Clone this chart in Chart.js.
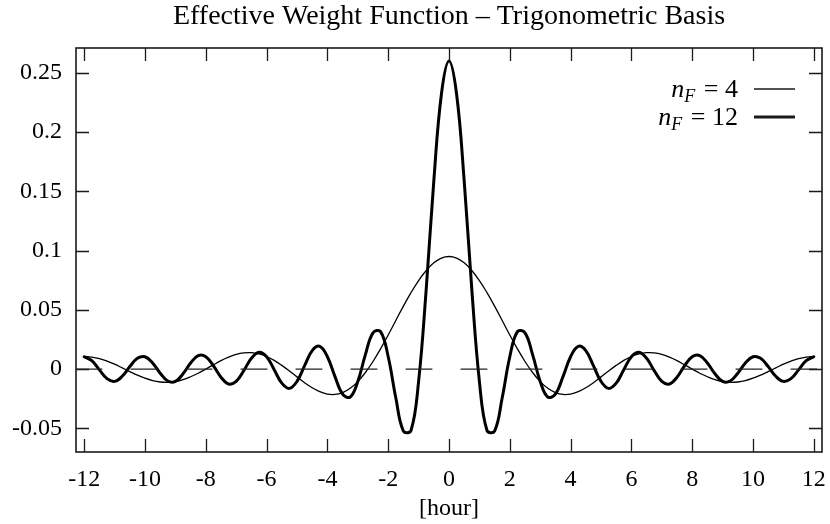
<!DOCTYPE html>
<html>
<head>
<meta charset="utf-8">
<title>Effective Weight Function</title>
<script src="https://cdn.jsdelivr.net/npm/chart.js@4.4.1/dist/chart.umd.min.js"></script>
<style>
  html, body { margin: 0; padding: 0; background: #fff; }
  canvas { display: block; }
</style>
</head>
<body>
<canvas id="weightChart" width="830" height="524"></canvas>
<script>
const chartTitle = 'Effective Weight Function \u2013 Trigonometric Basis';

// sample positions in hours
const hours = [
  -12, -11.75, -11.5, -11.25, -11, -10.75, -10.5, -10.25, -10, -9.75, -9.5, -9.25,
  -9, -8.75, -8.5, -8.25, -8, -7.75, -7.5, -7.25, -7, -6.75, -6.5, -6.25,
  -6, -5.75, -5.5, -5.25, -5, -4.75, -4.5, -4.25, -4, -3.75, -3.5, -3.25,
  -3, -2.75, -2.5, -2.25, -2, -1.75, -1.5, -1.25, -1, -0.75, -0.5, -0.25,
  0,
  0.25, 0.5, 0.75, 1, 1.25, 1.5, 1.75, 2, 2.25, 2.5, 2.75, 3,
  3.25, 3.5, 3.75, 4, 4.25, 4.5, 4.75, 5, 5.25, 5.5, 5.75, 6,
  6.25, 6.5, 6.75, 7, 7.25, 7.5, 7.75, 8, 8.25, 8.5, 8.75, 9,
  9.25, 9.5, 9.75, 10, 10.25, 10.5, 10.75, 11, 11.25, 11.5, 11.75, 12
];

// n_F = 4
const weightN4 = [
  0.0106, 0.0101, 0.0088, 0.0067, 0.0041, 0.0010, -0.0021, -0.0051, -0.0077, -0.0097, -0.0109, -0.0112,
  -0.0106, -0.0090, -0.0065, -0.0035, 0.0000, 0.0036, 0.0071, 0.0100, 0.0123, 0.0136, 0.0138, 0.0128,
  0.0106, 0.0073, 0.0031, -0.0016, -0.0066, -0.0115, -0.0158, -0.0191, -0.0211, -0.0214, -0.0198, -0.0162,
  -0.0106, -0.0029, 0.0064, 0.0171, 0.0288, 0.0410, 0.0531, 0.0645, 0.0747, 0.0832, 0.0897, 0.0937,
  0.0950,
  0.0937, 0.0897, 0.0832, 0.0747, 0.0645, 0.0531, 0.0410, 0.0288, 0.0171, 0.0064, -0.0029, -0.0106,
  -0.0162, -0.0198, -0.0214, -0.0211, -0.0191, -0.0158, -0.0115, -0.0066, -0.0016, 0.0031, 0.0073, 0.0106,
  0.0128, 0.0138, 0.0136, 0.0123, 0.0100, 0.0071, 0.0036, 0.0000, -0.0035, -0.0065, -0.0090, -0.0106,
  -0.0112, -0.0109, -0.0097, -0.0077, -0.0051, -0.0021, 0.0010, 0.0041, 0.0067, 0.0088, 0.0101, 0.0106
];

// n_F = 12
const weightN12 = [
  0.0104, 0.0071, -0.0007, -0.0081, -0.0104, -0.0061, 0.0021, 0.0091, 0.0104, 0.0051, -0.0035, -0.0101,
  -0.0104, -0.0040, 0.0051, 0.0113, 0.0104, 0.0028, -0.0069, -0.0126, -0.0104, -0.0013, 0.0091, 0.0142,
  0.0104, -0.0005, -0.0119, -0.0163, -0.0104, 0.0029, 0.0156, 0.0192, 0.0104, -0.0064, -0.0211, -0.0236,
  -0.0104, 0.0122, 0.0306, 0.0316, 0.0104, -0.0242, -0.0523, -0.0519, -0.0104, 0.0673, 0.1587, 0.2320,
  0.2600,
  0.2320, 0.1587, 0.0673, -0.0104, -0.0519, -0.0523, -0.0242, 0.0104, 0.0316, 0.0306, 0.0122, -0.0104,
  -0.0236, -0.0211, -0.0064, 0.0104, 0.0192, 0.0156, 0.0029, -0.0104, -0.0163, -0.0119, -0.0005, 0.0104,
  0.0142, 0.0091, -0.0013, -0.0104, -0.0126, -0.0069, 0.0028, 0.0104, 0.0113, 0.0051, -0.0040, -0.0104,
  -0.0101, -0.0035, 0.0051, 0.0104, 0.0091, 0.0021, -0.0061, -0.0104, -0.0081, -0.0007, 0.0071, 0.0104
];

const xTicks = [-12, -10, -8, -6, -4, -2, 0, 2, 4, 6, 8, 10, 12];
const yTicks = [-0.05, 0, 0.05, 0.1, 0.15, 0.2, 0.25];
const legendNF = ['4', '12'];
const lineWidths = [1.3, 3];

const X_MIN = -12.27, X_MAX = 12.27;
const Y_MIN = -0.07, Y_MAX = 0.271;
const FONT = '"Liberation Serif", "Times New Roman", serif';

Chart.defaults.font.family = FONT;
Chart.defaults.color = '#000';

const toPoints = vals => hours.map((h, i) => ({ x: h, y: vals[i] }));

// box round the plot, inward ticks on all four sides, title and legend
const framePlugin = {
  id: 'frame',
  afterDatasetsDraw(chart) {
    const { ctx, chartArea: a, scales: { x, y } } = chart;
    ctx.save();
    ctx.strokeStyle = '#1a1a1a';
    ctx.lineWidth = 1.6;
    ctx.strokeRect(a.left, a.top, a.right - a.left, a.bottom - a.top);

    ctx.lineWidth = 1.3;
    ctx.beginPath();
    x.ticks.forEach(t => {
      const px = Math.round(x.getPixelForValue(t.value)) + 0.5;
      ctx.moveTo(px, a.bottom); ctx.lineTo(px, a.bottom - 13);
      ctx.moveTo(px, a.top); ctx.lineTo(px, a.top + 13);
    });
    y.ticks.forEach(t => {
      const py = Math.round(y.getPixelForValue(t.value)) + 0.5;
      ctx.moveTo(a.left, py); ctx.lineTo(a.left + 13, py);
      ctx.moveTo(a.right, py); ctx.lineTo(a.right - 13, py);
    });
    ctx.stroke();

    ctx.fillStyle = '#000';
    ctx.font = '28px ' + FONT;
    ctx.textAlign = 'center';
    ctx.textBaseline = 'middle';
    ctx.fillText(chartTitle, (a.left + a.right) / 2, 17);

    // legend: italic n with subscript F
    const textRight = a.right - 84;
    const lineStart = a.right - 68, lineEnd = a.right - 27;
    legendNF.forEach((nf, i) => {
      const ly = 89 + i * 28;
      const rest = ' = ' + nf;
      ctx.textAlign = 'left';
      ctx.textBaseline = 'alphabetic';
      ctx.font = 'italic 26px ' + FONT;
      const wn = ctx.measureText('n').width;
      ctx.font = 'italic 18px ' + FONT;
      const wf = ctx.measureText('F').width;
      ctx.font = '26px ' + FONT;
      const wr = ctx.measureText(rest).width;
      let tx = textRight - (wn + wf + 2 + wr);
      const base = ly + 8;
      ctx.font = 'italic 26px ' + FONT;
      ctx.fillText('n', tx, base);
      tx += wn;
      ctx.font = 'italic 18px ' + FONT;
      ctx.fillText('F', tx, base + 5);
      tx += wf + 2;
      ctx.font = '26px ' + FONT;
      ctx.fillText(rest, tx, base);

      ctx.lineWidth = lineWidths[i];
      ctx.beginPath();
      ctx.moveTo(lineStart, ly);
      ctx.lineTo(lineEnd, ly);
      ctx.stroke();
    });
    ctx.restore();
  }
};

new Chart(document.getElementById('weightChart'), {
  type: 'line',
  data: {
    datasets: [
      {
        label: 'zero',
        data: [{ x: X_MIN, y: 0 }, { x: X_MAX, y: 0 }],
        borderColor: '#222',
        borderWidth: 1.2,
        borderDash: [26, 29],
        tension: 0
      },
      {
        label: 'n_F = 4',
        data: toPoints(weightN4),
        borderColor: '#000',
        borderWidth: lineWidths[0],
        tension: 0.4
      },
      {
        label: 'n_F = 12',
        data: toPoints(weightN12),
        borderColor: '#000',
        borderWidth: lineWidths[1],
        tension: 0.4
      }
    ]
  },
  options: {
    responsive: false,
    animation: false,
    events: [],
    layout: { padding: { top: 48, right: 8, left: 0, bottom: 0 } },
    elements: { point: { radius: 0 }, line: { borderJoinStyle: 'round', borderCapStyle: 'round' } },
    plugins: {
      legend: { display: false },
      title: { display: false },
      tooltip: { enabled: false }
    },
    scales: {
      x: {
        type: 'linear',
        min: X_MIN,
        max: X_MAX,
        grid: { display: false, drawTicks: false },
        border: { display: false },
        afterBuildTicks: s => { s.ticks = xTicks.map(v => ({ value: v })); },
        afterFit: s => { s.height = 72; s.paddingLeft = 0; s.paddingRight = 0; },
        ticks: {
          padding: 13,
          font: { size: 24 },
          maxRotation: 0,
          autoSkip: false,
          callback: v => String(v)
        },
        title: {
          display: true,
          text: '[hour]',
          font: { size: 24 },
          padding: { top: 0, bottom: 1 }
        }
      },
      y: {
        min: Y_MIN,
        max: Y_MAX,
        grid: { display: false, drawTicks: false },
        border: { display: false },
        afterBuildTicks: s => { s.ticks = yTicks.map(v => ({ value: v })); },
        afterFit: s => { s.width = 76; s.paddingTop = 0; s.paddingBottom = 0; },
        ticks: {
          padding: 14,
          font: { size: 24 },
          autoSkip: false,
          callback: v => String(v)
        }
      }
    }
  },
  plugins: [framePlugin]
});
</script>
</body>
</html>
